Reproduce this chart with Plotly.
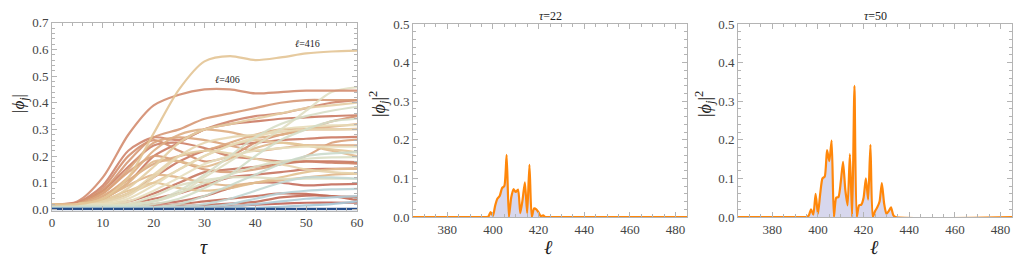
import plotly.graph_objects as go
from plotly.colors import sample_colorscale

# ---- left panel: |phi_l| versus tau, one curve per site l ----
tau = [0, 5, 10, 15, 20, 25, 30, 35, 40, 45, 50, 55, 60]

amp_396 = [0.004, 0.004, 0.004, 0.004, 0.005, 0.006, 0.008, 0.012, 0.018, 0.022, 0.025, 0.026, 0.025]
amp_397 = [0.006, 0.006, 0.006, 0.007, 0.008, 0.012, 0.016, 0.022, 0.028, 0.045, 0.052, 0.05, 0.035]
amp_398 = [0.01, 0.01, 0.01, 0.011, 0.013, 0.02, 0.03, 0.04, 0.05, 0.06, 0.058, 0.05, 0.047]
amp_399 = [0.012, 0.012, 0.012, 0.013, 0.02, 0.03, 0.05, 0.08, 0.1, 0.1, 0.09, 0.094, 0.096]
amp_400 = [0.014, 0.014, 0.015, 0.02, 0.04, 0.06, 0.09, 0.12, 0.13, 0.14, 0.15, 0.152, 0.153]
amp_401 = [0.016, 0.016, 0.02, 0.03, 0.06, 0.1, 0.14, 0.15, 0.16, 0.17, 0.18, 0.18, 0.177]
amp_402 = [0.018, 0.018, 0.03, 0.06, 0.12, 0.18, 0.22, 0.24, 0.25, 0.26, 0.265, 0.27, 0.272]
amp_403 = [0.02, 0.02, 0.04, 0.1, 0.2, 0.25, 0.3, 0.32, 0.33, 0.34, 0.345, 0.35, 0.353]
amp_404 = [0.02, 0.025, 0.07, 0.16, 0.24, 0.25, 0.23, 0.2, 0.19, 0.18, 0.18, 0.175, 0.172]
amp_405 = [0.02, 0.025, 0.09, 0.22, 0.27, 0.26, 0.3, 0.33, 0.35, 0.36, 0.38, 0.4, 0.41]
amp_406 = [0.02, 0.03, 0.12, 0.28, 0.39, 0.43, 0.45, 0.45, 0.435, 0.44, 0.445, 0.445, 0.445]
amp_407 = [0.02, 0.025, 0.08, 0.2, 0.26, 0.22, 0.18, 0.2, 0.25, 0.28, 0.3, 0.33, 0.35]
amp_408 = [0.02, 0.022, 0.07, 0.18, 0.27, 0.3, 0.34, 0.36, 0.38, 0.4, 0.41, 0.41, 0.41]
amp_409 = [0.02, 0.02, 0.06, 0.14, 0.2, 0.18, 0.15, 0.14, 0.15, 0.17, 0.2, 0.25, 0.262]
amp_410 = [0.02, 0.02, 0.06, 0.15, 0.25, 0.27, 0.26, 0.24, 0.22, 0.23, 0.24, 0.24, 0.24]
amp_411 = [0.02, 0.02, 0.05, 0.11, 0.17, 0.2, 0.22, 0.25, 0.28, 0.3, 0.3, 0.3, 0.302]
amp_412 = [0.02, 0.02, 0.05, 0.12, 0.22, 0.28, 0.3, 0.29, 0.27, 0.28, 0.3, 0.31, 0.32]
amp_413 = [0.02, 0.02, 0.04, 0.09, 0.13, 0.12, 0.1, 0.09, 0.1, 0.11, 0.12, 0.13, 0.134]
amp_414 = [0.02, 0.02, 0.04, 0.1, 0.18, 0.18, 0.16, 0.19, 0.23, 0.25, 0.24, 0.22, 0.2]
amp_415 = [0.02, 0.02, 0.035, 0.07, 0.1, 0.08, 0.07, 0.08, 0.1, 0.12, 0.14, 0.15, 0.153]
amp_416 = [0.02, 0.02, 0.04, 0.12, 0.285, 0.45, 0.555, 0.575, 0.56, 0.57, 0.585, 0.592, 0.595]
amp_417 = [0.02, 0.02, 0.03, 0.06, 0.1, 0.15, 0.2, 0.24, 0.26, 0.25, 0.24, 0.225, 0.215]
amp_418 = [0.02, 0.02, 0.03, 0.08, 0.16, 0.25, 0.3, 0.32, 0.34, 0.36, 0.38, 0.39, 0.4]
amp_419 = [0.02, 0.02, 0.03, 0.06, 0.13, 0.2, 0.22, 0.21, 0.19, 0.17, 0.15, 0.14, 0.134]
amp_420 = [0.02, 0.02, 0.025, 0.05, 0.12, 0.2, 0.25, 0.27, 0.28, 0.29, 0.3, 0.3, 0.3]
amp_421 = [0.02, 0.02, 0.02, 0.04, 0.09, 0.15, 0.2, 0.24, 0.27, 0.3, 0.31, 0.315, 0.316]
amp_422 = [0.02, 0.02, 0.02, 0.03, 0.07, 0.12, 0.17, 0.2, 0.22, 0.23, 0.235, 0.235, 0.235]
amp_424 = [0.015, 0.015, 0.015, 0.02, 0.03, 0.06, 0.12, 0.18, 0.24, 0.3, 0.37, 0.44, 0.458]
amp_425 = [0.015, 0.015, 0.015, 0.02, 0.05, 0.09, 0.11, 0.12, 0.12, 0.115, 0.115, 0.115, 0.115]
amp_426 = [0.01, 0.01, 0.01, 0.015, 0.03, 0.06, 0.1, 0.13, 0.16, 0.18, 0.19, 0.195, 0.196]
amp_427 = [0.01, 0.01, 0.01, 0.015, 0.03, 0.07, 0.13, 0.2, 0.27, 0.32, 0.35, 0.37, 0.385]
amp_428 = [0.01, 0.01, 0.01, 0.01, 0.02, 0.04, 0.08, 0.13, 0.2, 0.26, 0.3, 0.33, 0.34]
amp_430 = [0.01, 0.01, 0.01, 0.01, 0.01, 0.02, 0.05, 0.09, 0.13, 0.17, 0.2, 0.21, 0.215]
amp_432 = [0.006, 0.006, 0.006, 0.006, 0.008, 0.01, 0.02, 0.04, 0.07, 0.1, 0.12, 0.12, 0.115]
amp_434 = [0.004, 0.004, 0.004, 0.004, 0.005, 0.006, 0.01, 0.02, 0.04, 0.06, 0.07, 0.075, 0.077]
amp_436 = [0.003, 0.003, 0.003, 0.003, 0.003, 0.004, 0.005, 0.01, 0.02, 0.03, 0.04, 0.045, 0.05]
amp_438 = [0.002, 0.002, 0.002, 0.002, 0.002, 0.002, 0.003, 0.004, 0.006, 0.01, 0.015, 0.02, 0.03]
amp_445 = [0.002, 0.002, 0.002, 0.002, 0.002, 0.002, 0.002, 0.002, 0.002, 0.002, 0.002, 0.002, 0.002]
amp_460 = [0.001, 0.001, 0.001, 0.001, 0.001, 0.001, 0.001, 0.001, 0.001, 0.001, 0.001, 0.001, 0.001]

curves = [
    (396, amp_396), (397, amp_397), (398, amp_398), (399, amp_399), (400, amp_400),
    (401, amp_401), (402, amp_402), (403, amp_403), (404, amp_404), (405, amp_405),
    (407, amp_407), (408, amp_408), (409, amp_409), (410, amp_410), (411, amp_411),
    (412, amp_412), (413, amp_413), (414, amp_414), (415, amp_415), (417, amp_417),
    (418, amp_418), (419, amp_419), (420, amp_420), (421, amp_421), (422, amp_422),
    (424, amp_424), (425, amp_425), (426, amp_426), (427, amp_427), (428, amp_428),
    (430, amp_430), (432, amp_432), (434, amp_434), (436, amp_436), (438, amp_438),
    (406, amp_406), (416, amp_416), (445, amp_445), (460, amp_460),
]

# ---- middle / right panels: |phi_l|^2 versus l ----
sites_22 = [365, 396, 397, 398, 399, 400, 401, 402, 403, 404, 405, 406, 407, 408, 409, 410,
            411, 412, 413, 414, 415, 416, 417, 418, 419, 420, 421, 422, 423, 424, 485]
prob_22 = [0.0, 0.0, 0.0, 0.001, 0.013, 0.003, 0.03, 0.048, 0.055, 0.075, 0.08, 0.161, 0.0, 0.05, 0.072, 0.065,
           0.071, 0.01, 0.045, 0.09, 0.01, 0.135, 0.0, 0.022, 0.02, 0.012, 0.002, 0.004, 0.0, 0.0, 0.0]

sites_50 = [365, 394, 395, 396, 397, 398, 399, 400, 401, 402, 403, 404, 405, 406, 407, 408, 409, 410,
            411, 412, 413, 414, 415, 416, 417, 418, 419, 420, 421, 422, 423, 424, 425, 426, 427, 428,
            429, 430, 431, 432, 433, 434, 485]
prob_50 = [0.0, 0.0, 0.0, 0.004, 0.02, 0.006, 0.06, 0.008, 0.06, 0.1, 0.105, 0.173, 0.145, 0.198, 0.0, 0.05,
           0.052, 0.09, 0.143, 0.07, 0.03, 0.163, 0.0, 0.34, 0.0, 0.03, 0.032, 0.05, 0.1, 0.045, 0.187, 0.0,
           0.015, 0.025, 0.04, 0.088, 0.035, 0.008, 0.015, 0.025, 0.005, 0.0, 0.0]

# colour of a curve follows its site index
site_scale = [
    [0.0, "rgb(192,104,88)"],
    [0.18, "rgb(206,128,104)"],
    [0.32, "rgb(220,165,125)"],
    [0.45, "rgb(228,196,148)"],
    [0.59, "rgb(232,224,192)"],
    [0.73, "rgb(212,222,200)"],
    [0.86, "rgb(186,212,216)"],
    [0.96, "rgb(165,198,214)"],
    [1.0, "rgb(38,78,140)"],
]


def site_color(l):
    f = min(max((l - 396) / 44.0, 0.0), 1.0)
    return sample_colorscale(site_scale, [f])[0]


SERIF = "Liberation Serif, DejaVu Serif, serif"
FRAME = "#b4b4b4"

fig = go.Figure()

for l, amp in curves:
    fig.add_trace(go.Scatter(
        x=tau, y=amp, mode="lines",
        line=dict(color=site_color(l), width=2.2, shape="spline", smoothing=0.8),
        opacity=0.9, showlegend=False, xaxis="x", yaxis="y"))

for sites, prob, ax in [(sites_22, prob_22, "2"), (sites_50, prob_50, "3")]:
    fig.add_trace(go.Scatter(
        x=sites, y=prob, mode="lines", fill="tozeroy",
        fillcolor="rgba(205,205,232,0.8)",
        line=dict(color="rgb(255,135,10)", width=2.2, shape="spline", smoothing=0.6),
        showlegend=False, xaxis="x" + ax, yaxis="y" + ax))


def frame_axis(**kw):
    d = dict(showline=True, linecolor=FRAME, linewidth=1, mirror="allticks",
             ticks="inside", ticklen=5, tickcolor=FRAME, showgrid=False, zeroline=False,
             automargin=False,
             tickfont=dict(family=SERIF, size=13, color="#444"))
    d.update(kw)
    return d


# the page body adds an 8px margin, so the figure is drawn 8px in from the corner
OFF = 8
W, H = 1024 - OFF, 259 - OFF


def px(x0, x1):
    return [(x0 - OFF) / W, (x1 - OFF) / W]


def py(top, bottom):
    return [1 - (bottom - OFF) / H, 1 - (top - OFF) / H]


fig.update_layout(
    width=W, height=H,
    margin=dict(l=0, r=0, t=0, b=0),
    paper_bgcolor="white", plot_bgcolor="white",
    xaxis=frame_axis(domain=px(52, 357), range=[0, 60], dtick=10,
                     minor=dict(ticks="inside", ticklen=3, tickcolor=FRAME, dtick=2),
                     anchor="y"),
    yaxis=frame_axis(domain=py(22.7, 210.5), range=[-0.004, 0.7], dtick=0.1, tickformat=".1f",
                     minor=dict(ticks="inside", ticklen=3, tickcolor=FRAME, dtick=0.02),
                     anchor="x"),
    xaxis2=frame_axis(domain=px(413, 687), range=[365, 485], dtick=20, tick0=380,
                      minor=dict(ticks="inside", ticklen=3, tickcolor=FRAME, dtick=5),
                      anchor="y2"),
    yaxis2=frame_axis(domain=py(24, 217), range=[0, 0.5], dtick=0.1, tickformat=".1f",
                      minor=dict(ticks="inside", ticklen=3, tickcolor=FRAME, dtick=0.02),
                      anchor="x2"),
    xaxis3=frame_axis(domain=px(738, 1012), range=[365, 485], dtick=20, tick0=380,
                      minor=dict(ticks="inside", ticklen=3, tickcolor=FRAME, dtick=5),
                      anchor="y3"),
    yaxis3=frame_axis(domain=py(24, 217), range=[0, 0.5], dtick=0.1, tickformat=".1f",
                      minor=dict(ticks="inside", ticklen=3, tickcolor=FRAME, dtick=0.02),
                      anchor="x3"),
)

notes = [
    # text, x px, y px, size, rotation
    ("|<i>ϕ</i><sub><i>j</i></sub>|", 20, 104, 17, -90),
    ("<i>τ</i>", 204, 247, 20, 0),
    ("<i>ℓ</i>", 548, 247, 20, 0),
    ("<i>ℓ</i>", 874, 247, 20, 0),
    ("|<i>ϕ</i><sub><i>j</i></sub>|<sup>2</sup>", 378, 104, 18, -90),
    ("|<i>ϕ</i><sub><i>j</i></sub>|<sup>2</sup>", 704, 104, 18, -90),
    ("<i>τ</i>=22", 550, 16, 12, 0),
    ("<i>τ</i>=50", 875, 16, 12, 0),
]
for text, x, y, size, rot in notes:
    fig.add_annotation(text=text, x=(x - OFF) / W, y=1 - (y - OFF) / H, xref="paper", yref="paper",
                       xanchor="center", yanchor="middle", showarrow=False, textangle=rot,
                       font=dict(family=SERIF, size=size, color="#222"))

fig.add_annotation(text="<i>ℓ</i>=416", x=50.3, y=0.622, xref="x", yref="y", showarrow=False,
                   font=dict(family=SERIF, size=10, color="#222"))
fig.add_annotation(text="<i>ℓ</i>=406", x=34.6, y=0.488, xref="x", yref="y", showarrow=False,
                   font=dict(family=SERIF, size=10, color="#222"))

fig.write_html("out.html")
